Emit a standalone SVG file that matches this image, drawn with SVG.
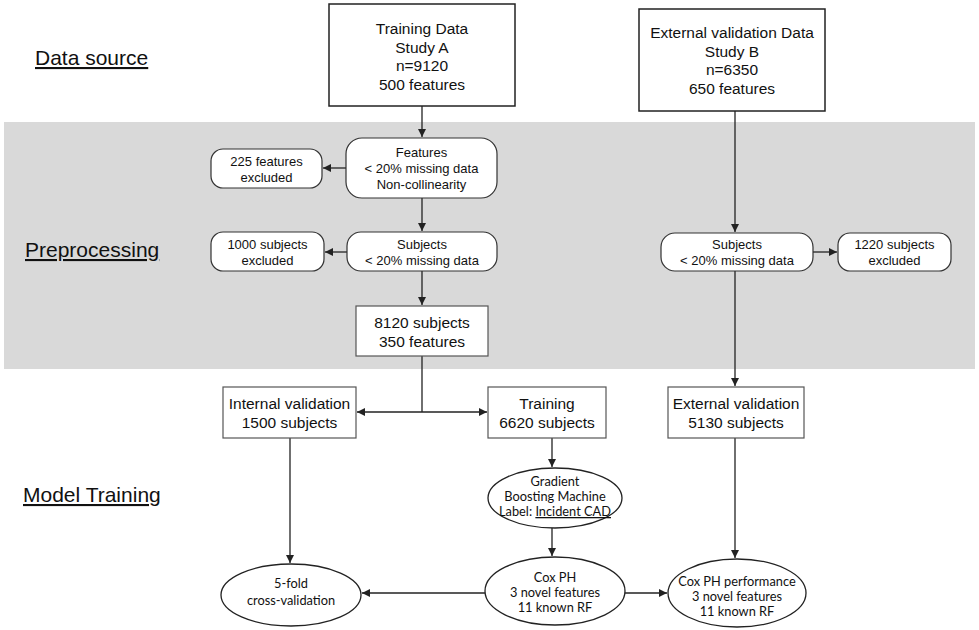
<svg xmlns="http://www.w3.org/2000/svg" width="979" height="630" viewBox="0 0 979 630">
<style>
.sec{font-family:"Liberation Sans",Arial,sans-serif;font-size:21px;fill:#111;text-decoration:underline}
.bt{font-family:"Liberation Sans",Arial,sans-serif;font-size:15.5px;fill:#111;text-anchor:middle}
.st{font-family:"Liberation Sans",Arial,sans-serif;font-size:13px;fill:#111;text-anchor:middle}
.et{font-family:Lato,"Open Sans",sans-serif;font-size:12.8px;fill:#111;text-anchor:middle}
.bx{fill:#fff;stroke:#222;stroke-width:1.5}
.bx2{fill:#fff;stroke:#555;stroke-width:1.2}
.rb{fill:#fff;stroke:#333;stroke-width:1.2}
.el{fill:#fff;stroke:#222;stroke-width:1.3}
.cn{fill:none;stroke:#222;stroke-width:1.3}
</style>
<defs>
<marker id="ah" viewBox="0 0 10 10" refX="10" refY="5" markerWidth="8" markerHeight="8" markerUnits="userSpaceOnUse" orient="auto">
<path d="M0,0 L10,5 L0,10 z" fill="#222"/>
</marker>
</defs>
<rect x="4" y="122" width="971" height="247" fill="#d9d9d9"/>
<text class="sec" x="35" y="65">Data source</text>
<text class="sec" x="25" y="257">Preprocessing</text>
<text class="sec" x="23" y="502">Model Training</text>
<g id="connectors">
<path class="cn" d="M422,106 V137" marker-end="url(#ah)"/>
<path class="cn" d="M346,168 H323" marker-end="url(#ah)"/>
<path class="cn" d="M422,198 V231" marker-end="url(#ah)"/>
<path class="cn" d="M347,252 H325" marker-end="url(#ah)"/>
<path class="cn" d="M422,271 V305" marker-end="url(#ah)"/>
<path class="cn" d="M735,111 V232" marker-end="url(#ah)"/>
<path class="cn" d="M813,252 H837" marker-end="url(#ah)"/>
<path class="cn" d="M735,271 V386" marker-end="url(#ah)"/>
<path class="cn" d="M422,356 V412"/>
<path class="cn" d="M422,412 H357" marker-end="url(#ah)"/>
<path class="cn" d="M422,412 H487" marker-end="url(#ah)"/>
<path class="cn" d="M552,438 V467" marker-end="url(#ah)"/>
<path class="cn" d="M552,528 V556" marker-end="url(#ah)"/>
<path class="cn" d="M290,438 V563" marker-end="url(#ah)"/>
<path class="cn" d="M485,593 H362" marker-end="url(#ah)"/>
<path class="cn" d="M625,593 H667" marker-end="url(#ah)"/>
<path class="cn" d="M735,438 V558" marker-end="url(#ah)"/>
</g>
<g id="training-data">
<rect class="bx" x="329" y="4" width="186" height="102"/>
<text class="bt" x="422" y="34">Training Data</text>
<text class="bt" x="422" y="52.5">Study A</text>
<text class="bt" x="422" y="71">n=9120</text>
<text class="bt" x="422" y="89.5">500 features</text>
</g>
<g id="external-data">
<rect class="bx" x="639" y="9" width="186" height="102"/>
<text class="bt" x="732" y="38">External validation Data</text>
<text class="bt" x="732" y="56.5">Study B</text>
<text class="bt" x="732" y="75">n=6350</text>
<text class="bt" x="732" y="93.5">650 features</text>
</g>
<g id="features-filter">
<rect class="rb" x="346" y="138" width="151" height="60" rx="16"/>
<text class="st" x="421.5" y="157">Features</text>
<text class="st" x="421.5" y="173">&lt; 20% missing data</text>
<text class="st" x="421.5" y="189">Non-collinearity</text>
</g>
<g id="features-excluded">
<rect class="rb" x="211" y="149" width="111" height="39" rx="12"/>
<text class="st" x="266.5" y="166">225 features</text>
<text class="st" x="266.5" y="182">excluded</text>
</g>
<g id="subjects-filter-a">
<rect class="rb" x="347" y="232" width="150" height="39" rx="14"/>
<text class="st" x="422" y="249">Subjects</text>
<text class="st" x="422" y="265">&lt; 20% missing data</text>
</g>
<g id="subjects-excluded-a">
<rect class="rb" x="211" y="232" width="113" height="39" rx="12"/>
<text class="st" x="267.5" y="249">1000 subjects</text>
<text class="st" x="267.5" y="265">excluded</text>
</g>
<g id="subjects-filter-b">
<rect class="rb" x="661" y="233" width="152" height="38" rx="14"/>
<text class="st" x="737" y="249">Subjects</text>
<text class="st" x="737" y="265">&lt; 20% missing data</text>
</g>
<g id="subjects-excluded-b">
<rect class="rb" x="838" y="233" width="113" height="38" rx="12"/>
<text class="st" x="894.5" y="249">1220 subjects</text>
<text class="st" x="894.5" y="265">excluded</text>
</g>
<g id="clean-set">
<rect class="bx2" x="356" y="306" width="132" height="50"/>
<text class="bt" x="422" y="328">8120 subjects</text>
<text class="bt" x="422" y="347">350 features</text>
</g>
<g id="internal-validation">
<rect class="bx2" x="223" y="387" width="133" height="51"/>
<text class="bt" x="289.5" y="409">Internal validation</text>
<text class="bt" x="289.5" y="428">1500 subjects</text>
</g>
<g id="training">
<rect class="bx2" x="488" y="387" width="118" height="51"/>
<text class="bt" x="547" y="409">Training</text>
<text class="bt" x="547" y="428">6620 subjects</text>
</g>
<g id="external-validation">
<rect class="bx2" x="668" y="387" width="136" height="51"/>
<text class="bt" x="736" y="409">External validation</text>
<text class="bt" x="736" y="428">5130 subjects</text>
</g>
<g id="gbm">
<ellipse class="el" cx="555" cy="498" rx="67" ry="30"/>
<text class="et" x="555" y="486">Gradient</text>
<text class="et" x="555" y="501">Boosting Machine</text>
<text class="et" x="555" y="516">Label: <tspan text-decoration="underline">Incident CAD</tspan></text>
</g>
<g id="coxph">
<ellipse class="el" cx="555" cy="591" rx="70" ry="34"/>
<text class="et" x="555" y="582">Cox PH</text>
<text class="et" x="555" y="597">3 novel features</text>
<text class="et" x="555" y="612">11 known RF</text>
</g>
<g id="cv">
<ellipse class="el" cx="291" cy="595" rx="70" ry="31"/>
<text class="et" x="291" y="588">5-fold</text>
<text class="et" x="291" y="605">cross-validation</text>
</g>
<g id="coxph-performance">
<ellipse class="el" cx="737" cy="593" rx="69" ry="34"/>
<text class="et" x="737" y="586">Cox PH performance</text>
<text class="et" x="737" y="601">3 novel features</text>
<text class="et" x="737" y="616">11 known RF</text>
</g>
</svg>
